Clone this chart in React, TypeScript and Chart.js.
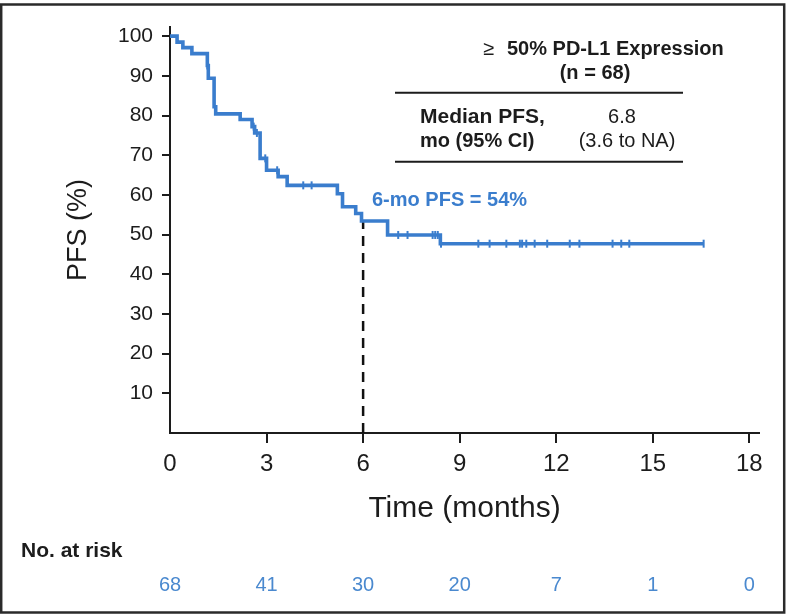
import React, { useEffect, useRef } from "react";
import { Chart, registerables } from "chart.js";

Chart.register(...registerables);

// ---- data ----
const stepTimes = [0, 0.22, 0.4, 0.68, 1.16, 1.19, 1.37, 1.42, 2.18, 2.55, 2.63, 2.8, 3.0, 3.36, 3.64, 5.2, 5.36, 5.77, 5.95, 6.76, 8.4, 16.58];
const stepPFS = [100, 98.5, 97.1, 95.6, 92.6, 89.4, 82.2, 80.4, 79.0, 77.2, 75.6, 69.2, 66.2, 64.6, 62.4, 60.3, 57.0, 55.3, 53.4, 49.9, 47.7, 47.7];
const censorTimes = [1.16, 2.6, 2.7, 2.96, 3.33, 4.14, 4.4, 7.09, 7.38, 8.16, 8.24, 8.32, 8.42, 9.58, 9.93, 10.45, 10.87, 10.94, 11.07, 11.33, 11.72, 12.42, 12.72, 13.75, 14.02, 14.27, 16.58];
const landmarkTime = 6;
const xTickValues = [0, 3, 6, 9, 12, 15, 18];
const yTickValues = [10, 20, 30, 40, 50, 60, 70, 80, 90, 100];
const riskTimes = [0, 3, 6, 9, 12, 15, 18];
const atRisk = [68, 41, 30, 20, 7, 1, 0];

const BLUE = "#3a7dcd";
const RISK_BLUE = "#4a89cf";
const INK = "#1c1c1c";
const FONT = '"Liberation Sans", Arial, sans-serif';

function kmAt(t: number): number {
  let v = stepPFS[0];
  for (let i = 0; i < stepTimes.length; i++) {
    if (t >= stepTimes[i]) v = stepPFS[i];
  }
  return v;
}

const annotationPlugin = {
  id: "annot",
  beforeDraw(chart: any) {
    const c = chart.ctx;
    c.save();
    c.fillStyle = "#ffffff";
    c.fillRect(0, 0, chart.width, chart.height);
    c.restore();
  },
  afterDraw(chart: any) {
    const c = chart.ctx;
    const xs = chart.scales.x;
    c.save();
    // frame
    c.strokeStyle = "#2a2a2a";
    c.lineWidth = 2.5;
    c.strokeRect(1.2, 4.5, 783, 608);

    // 6-month label
    c.fillStyle = BLUE;
    c.font = `bold 20px ${FONT}`;
    c.textAlign = "left";
    c.textBaseline = "alphabetic";
    c.fillText("6-mo PFS = 54%", 372, 206);

    // table
    c.fillStyle = INK;
    c.font = `20px ${FONT}`;
    c.fillText("\u2265", 483, 55);
    c.font = `bold 20px ${FONT}`;
    c.fillText("50% PD-L1 Expression", 507, 55);
    c.textAlign = "center";
    c.fillText("(n = 68)", 595, 79);
    c.strokeStyle = INK;
    c.lineWidth = 2;
    c.beginPath();
    c.moveTo(395, 92.7);
    c.lineTo(683, 92.7);
    c.moveTo(395, 161.7);
    c.lineTo(683, 161.7);
    c.stroke();
    c.textAlign = "left";
    c.font = `bold 21px ${FONT}`;
    c.fillText("Median PFS,", 420, 123);
    c.font = `bold 20px ${FONT}`;
    c.fillText("mo (95% CI)", 420, 147);
    c.font = `20px ${FONT}`;
    c.textAlign = "center";
    c.fillText("6.8", 622, 123);
    c.fillText("(3.6 to NA)", 627, 147);

    // number at risk
    c.textAlign = "left";
    c.font = `bold 21px ${FONT}`;
    c.fillText("No. at risk", 21, 557);
    c.textAlign = "center";
    c.font = `20px ${FONT}`;
    c.fillStyle = RISK_BLUE;
    riskTimes.forEach((t, i) => {
      c.fillText(String(atRisk[i]), xs.getPixelForValue(t), 591);
    });
    c.restore();
  },
};

export default function App() {
  const ref = useRef<HTMLCanvasElement | null>(null);
  useEffect(() => {
    if (!ref.current) return;
    Chart.defaults.font.family = FONT;
    const chart = new Chart(ref.current, {
      type: "scatter",
      data: {
        datasets: [
          {
            label: "PFS",
            data: stepTimes.map((t, i) => ({ x: t, y: stepPFS[i] })),
            showLine: true,
            stepped: "before",
            borderColor: BLUE,
            borderWidth: 3.6,
            pointRadius: 0,
            fill: false,
          },
          {
            label: "Censored",
            data: censorTimes.map((t) => ({ x: t, y: kmAt(t) })),
            showLine: false,
            pointStyle: "line",
            rotation: 90,
            pointRadius: 4,
            pointHoverRadius: 4,
            borderColor: BLUE,
            backgroundColor: BLUE,
            borderWidth: 2,
          },
          {
            label: "6-month",
            data: [
              { x: landmarkTime, y: 0 },
              { x: landmarkTime, y: kmAt(landmarkTime) },
            ],
            showLine: true,
            borderColor: "#111111",
            borderWidth: 2.5,
            borderDash: [10, 7],
            pointRadius: 0,
          },
        ],
      } as any,
      options: {
        responsive: false,
        animation: false,
        layout: { padding: { top: 27, right: 28, bottom: 0, left: 0 } },
        plugins: { legend: { display: false }, tooltip: { enabled: false } },
        scales: {
          x: {
            type: "linear",
            min: 0,
            max: 18.3,
            afterBuildTicks: (s: any) => {
              s.ticks = xTickValues.map((v) => ({ value: v }));
            },
            afterFit: (s: any) => {
              s.height = 183;
            },
            grid: {
              drawOnChartArea: false,
              drawTicks: true,
              tickLength: 10,
              lineWidth: 2,
              color: (ctx: any) => (ctx.tick && ctx.tick.value === 0 ? "rgba(0,0,0,0)" : INK),
            },
            border: { display: true, color: INK, width: 2 },
            ticks: { font: { size: 24 }, color: INK, padding: 7, maxRotation: 0, autoSkip: false },
            title: {
              display: true,
              text: "Time (months)",
              font: { size: 30 },
              color: INK,
              padding: { top: 0, bottom: 89 },
            },
          },
          y: {
            type: "linear",
            min: 0,
            max: 102.3,
            afterBuildTicks: (s: any) => {
              s.ticks = yTickValues.map((v) => ({ value: v }));
            },
            afterFit: (s: any) => {
              s.width = 170;
            },
            grid: {
              drawOnChartArea: false,
              drawTicks: true,
              tickLength: 8,
              lineWidth: 2,
              color: INK,
            },
            border: { display: true, color: INK, width: 2 },
            ticks: { font: { size: 21 }, color: INK, padding: 9 },
            title: {
              display: true,
              text: "PFS (%)",
              font: { size: 27 },
              color: INK,
              padding: { top: 62, bottom: 0 },
            },
          },
        },
      } as any,
      plugins: [annotationPlugin],
    });
    return () => chart.destroy();
  }, []);
  return (
    <div style={{ position: "absolute", left: 0, top: 0, width: 787, height: 616 }}>
      <canvas ref={ref} width={787} height={616} style={{ display: "block" }} />
    </div>
  );
}
